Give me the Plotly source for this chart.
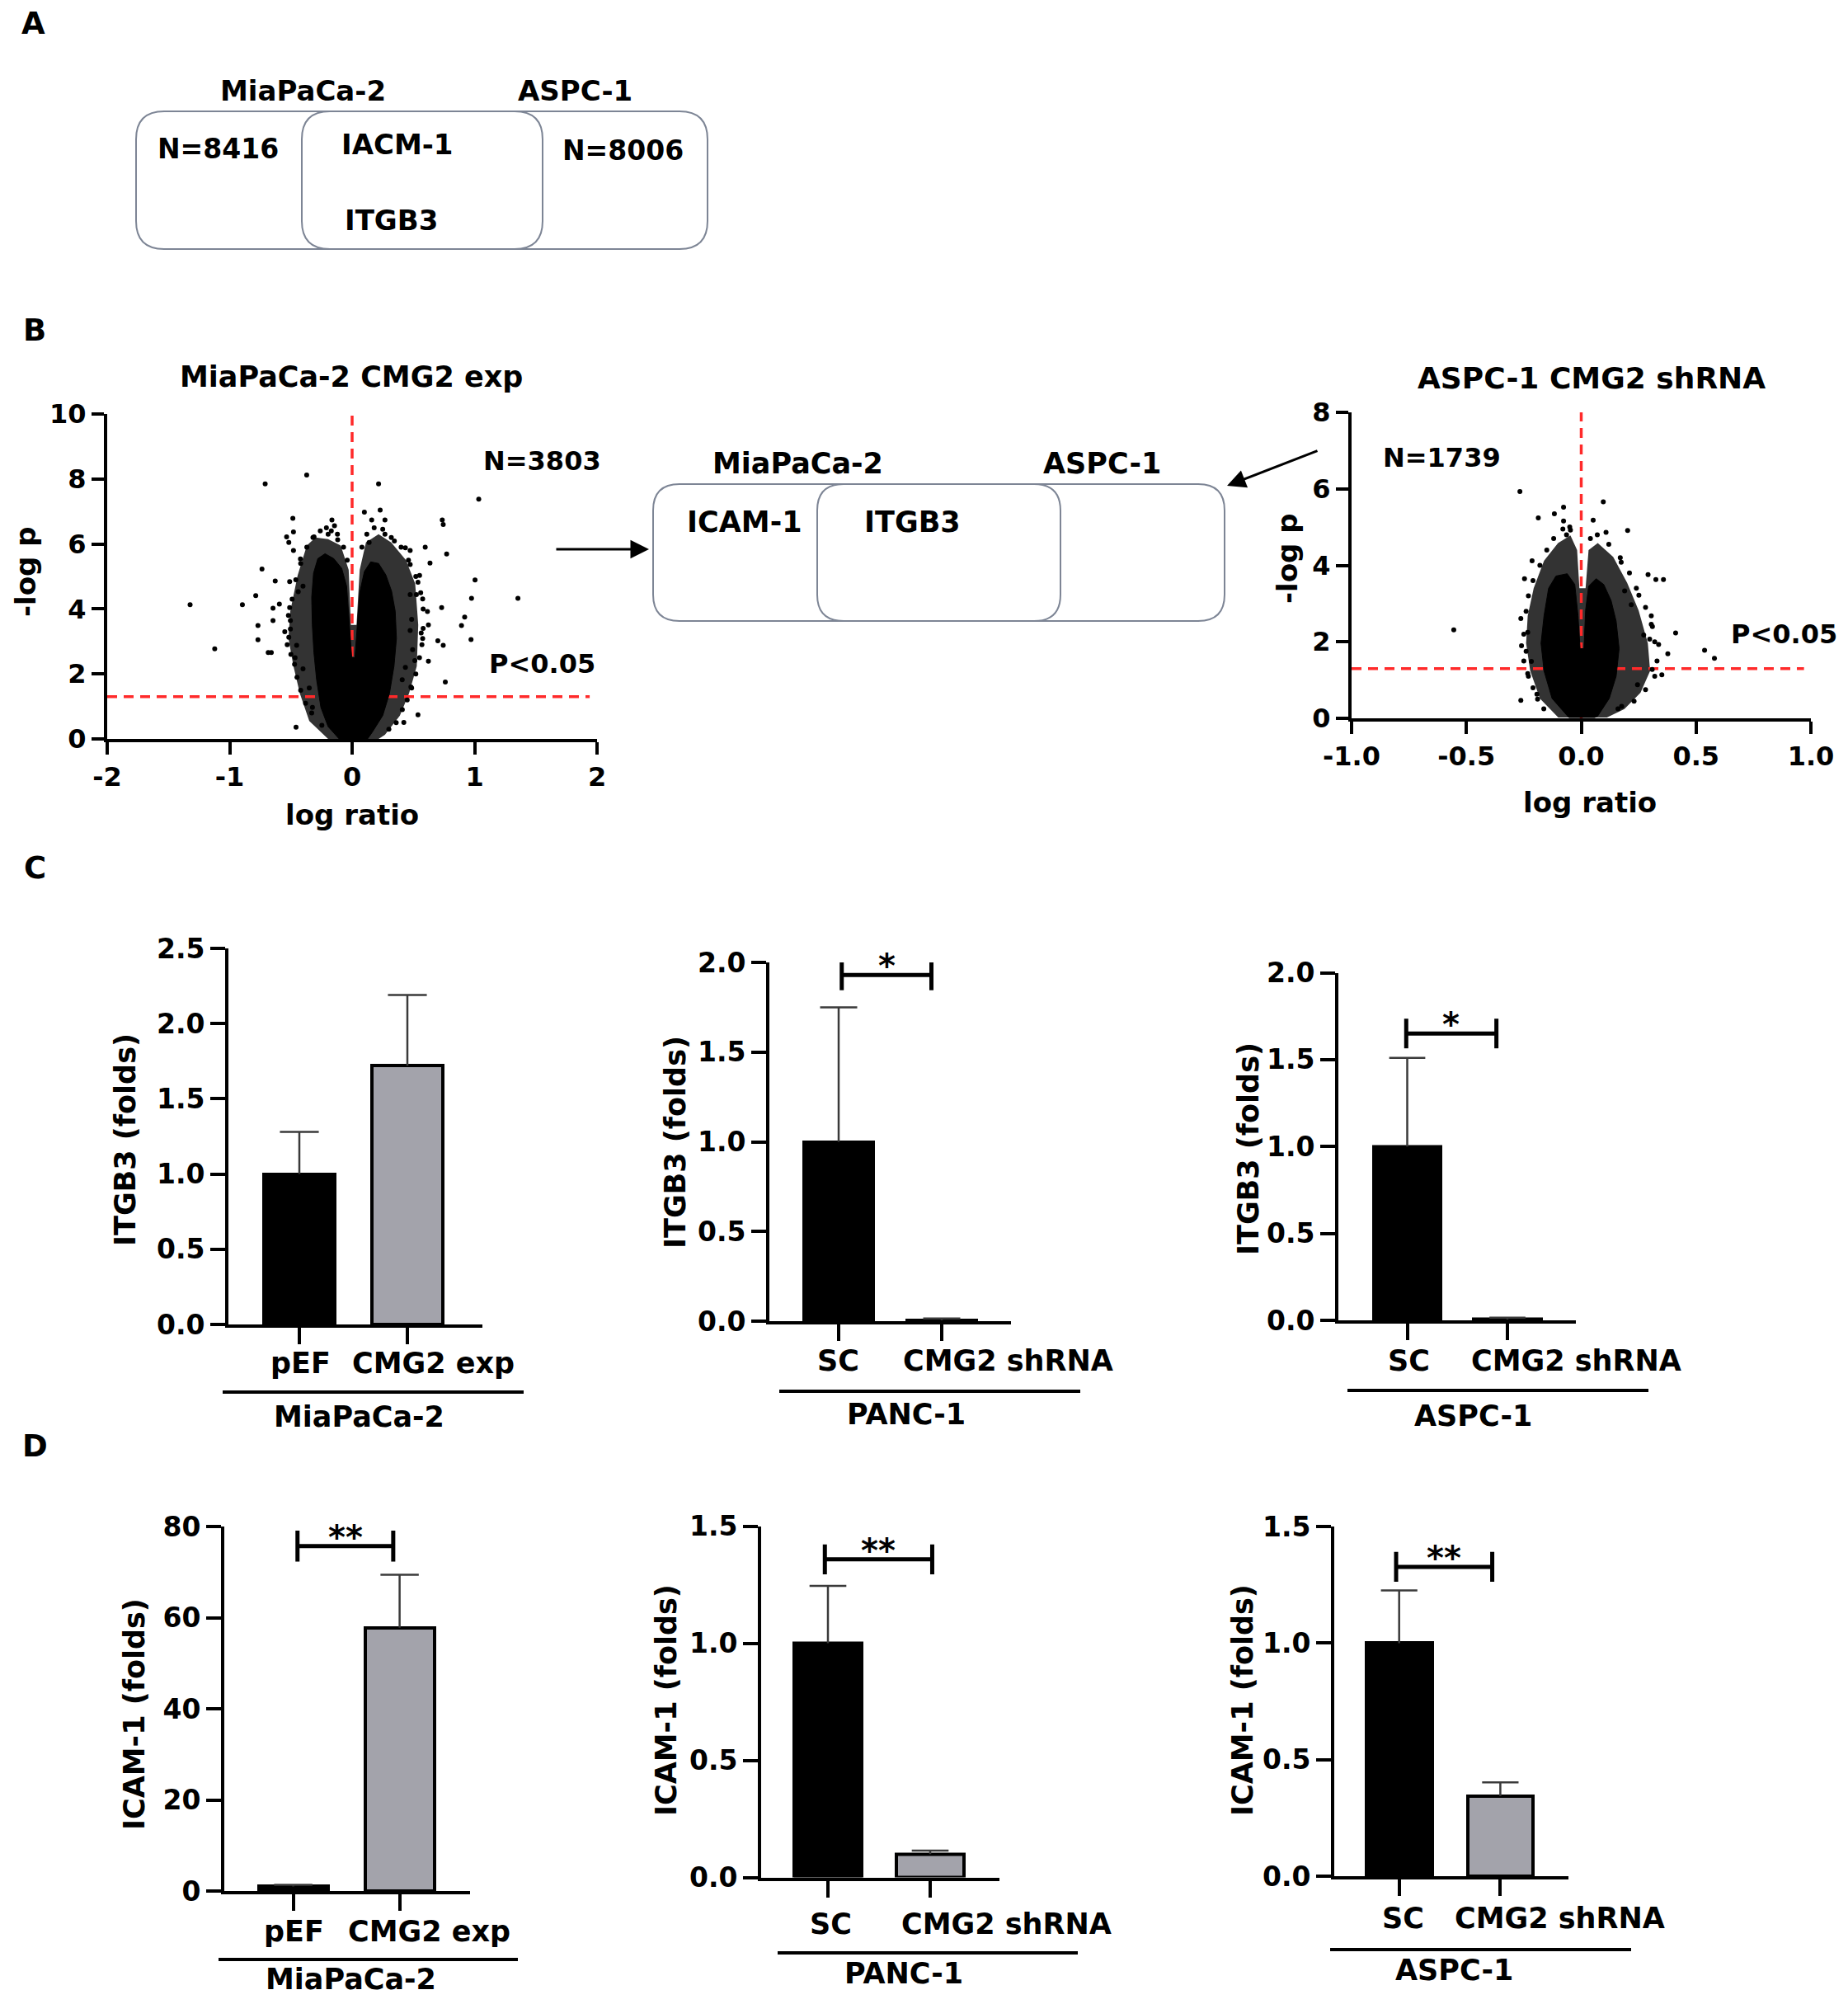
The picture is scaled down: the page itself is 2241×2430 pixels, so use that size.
import plotly.graph_objects as go

W, H = 2241, 2430
OFF = 8                      # default page margin of the HTML body
FIG_W, FIG_H = W - OFF, H - OFF
FONT = "DejaVu Sans"

# ---------------------------------------------------------------- data
# Panel B volcano plots (log ratio, -log p): isolated points and outlines of the dense clouds
mia_points = [(-0.371, 8.12), (-0.710, 7.85), (0.216, 7.85), (1.034, 7.38), (-0.484, 6.79), (-0.165, 6.74),
              (0.100, 6.98), (0.229, 7.04), (0.268, 6.74), (0.736, 6.74), (0.744, 6.60), (-0.144, 6.56),
              (0.160, 6.74), (0.597, 5.90), (0.772, 5.69), (0.636, 5.41), (-0.736, 5.23), (-0.628, 4.86),
              (-0.510, 4.84), (1.004, 4.89), (0.975, 4.33), (1.354, 4.33), (-1.323, 4.13), (-0.896, 4.13),
              (-0.787, 4.41), (-0.646, 4.02), (-0.594, 4.15), (-0.510, 4.04), (-0.646, 3.64), (-0.769, 3.49),
              (-0.769, 3.05), (-0.685, 2.66), (-0.660, 2.66), (-1.122, 2.77), (0.731, 4.04), (0.919, 3.75),
              (0.893, 3.49), (0.971, 3.06), (0.744, 2.88), (0.623, 2.39), (0.761, 1.75), (0.538, 0.74),
              (-0.458, 0.36), (0.615, 3.92), (0.623, 3.51), (0.564, 3.26), (0.700, 3.02), (0.494, 2.75),
              (0.512, 2.41), (0.486, 1.57), (0.422, 0.51), (-0.504, 3.64), (-0.401, 4.70), (-0.440, 4.53),
              (-0.517, 6.05), (-0.535, 6.22), (-0.479, 6.37), (-0.170, 6.40), (-0.479, 5.80), (-0.422, 5.54),
              (0.551, 5.03), (0.525, 4.44), (0.435, 5.88), (0.474, 5.80), (0.474, 5.37), (0.538, 4.82),
              (0.474, 4.44), (0.576, 4.31), (0.486, 3.68), (0.474, 3.34), (0.576, 3.09), (0.435, 2.20),
              (0.409, 1.82), (-0.453, 2.88), (-0.466, 2.50), (-0.401, 2.16), (-0.350, 1.57), (-0.324, 0.97),
              (-0.247, 0.42), (-0.517, 3.13), (-0.504, 3.38), (-0.311, 6.22), (-0.196, 6.30), (-0.118, 6.13),
              (0.139, 6.05), (0.268, 6.30), (0.345, 6.09),
              # speckle along the cloud edges
              (-0.55, 3.3), (-0.53, 2.9), (-0.50, 2.6), (-0.47, 2.3), (-0.45, 1.9), (-0.42, 1.5), (-0.38, 1.1),
              (-0.33, 0.8), (-0.52, 3.8), (-0.49, 4.3), (-0.46, 4.9), (-0.42, 5.4), (-0.37, 5.9), (-0.32, 6.2),
              (-0.26, 6.4), (-0.21, 6.5), (-0.12, 6.3), (-0.07, 5.9), (-0.04, 5.5), (0.08, 5.9), (0.12, 6.3),
              (0.18, 6.5), (0.25, 6.45), (0.32, 6.2), (0.40, 5.9), (0.46, 5.5), (0.52, 5.0), (0.56, 4.5),
              (0.58, 4.0), (0.58, 3.4), (0.57, 2.9), (0.55, 2.5), (0.52, 2.0), (0.48, 1.6), (0.45, 1.2),
              (0.41, 0.9), (0.36, 0.5), (0.30, 0.3)]
mia_core = [(-0.106, 0.0), (-0.196, 0.38), (-0.255, 0.97), (-0.290, 1.82), (-0.312, 2.66), (-0.325, 3.51),
            (-0.330, 4.36), (-0.315, 5.10), (-0.280, 5.55), (-0.221, 5.70), (-0.150, 5.55), (-0.085, 5.25),
            (-0.045, 4.70), (-0.022, 3.51), (-0.003, 2.50), (0.023, 2.50), (0.041, 3.51), (0.062, 4.50),
            (0.100, 5.15), (0.152, 5.45), (0.216, 5.40), (0.275, 5.05), (0.322, 4.55), (0.352, 3.93),
            (0.362, 3.09), (0.342, 2.24), (0.305, 1.40), (0.250, 0.72), (0.165, 0.21), (0.126, 0.0)]
mia_halo = [(-0.196, 0.0), (-0.350, 0.55), (-0.427, 1.40), (-0.479, 2.24), (-0.520, 3.09), (-0.505, 3.93),
            (-0.445, 5.03), (-0.370, 5.95), (-0.299, 6.20), (-0.196, 6.15), (-0.093, 5.95), (-0.028, 5.20),
            (-0.010, 3.51), (0.036, 3.51), (0.062, 5.20), (0.113, 6.05), (0.216, 6.30), (0.319, 6.05),
            (0.440, 5.50), (0.515, 4.78), (0.540, 3.51), (0.528, 2.24), (0.465, 1.40), (0.390, 0.72),
            (0.268, 0.13), (0.216, 0.0)]

aspc_points = [(-0.267, 5.93), (0.096, 5.66), (-0.077, 5.52), (-0.117, 5.35), (-0.187, 5.24), (-0.077, 5.16),
               (0.052, 5.18), (0.202, 4.91), (-0.047, 4.92), (0.108, 4.86), (-0.064, 4.80), (-0.214, 4.12),
               (0.174, 4.08), (0.291, 3.76), (0.325, 3.63), (0.358, 3.63), (-0.555, 2.31), (0.411, 2.23),
               (0.537, 1.78), (0.580, 1.57), (0.377, 1.69), (0.337, 1.93), (0.298, 2.07), (-0.263, 0.47),
               (-0.163, 0.25), (0.176, 0.31), (-0.193, 0.63), (0.351, 1.14), (0.309, 1.28), (0.245, 0.88),
               (-0.233, 1.17), (-0.247, 3.65), (-0.263, 2.61), (0.305, 2.68), (0.305, 2.46), (0.251, 3.22),
               (0.189, 3.33), (0.218, 2.97), (0.272, 2.18), (-0.217, 1.49), (-0.240, 1.75), (-0.233, 2.25),
               # speckle along the cloud edges
               (-0.25, 2.2), (-0.26, 1.9), (-0.25, 1.5), (-0.23, 1.1), (-0.21, 0.8), (-0.19, 0.5), (-0.24, 2.8),
               (-0.23, 3.2), (-0.21, 3.6), (-0.18, 4.0), (-0.15, 4.4), (-0.12, 4.7), (-0.08, 4.95), (-0.05, 5.0),
               (0.04, 4.7), (0.07, 4.8), (0.12, 4.55), (0.17, 4.2), (0.21, 3.8), (0.24, 3.4), (0.28, 2.9),
               (0.31, 2.4), (0.32, 2.0), (0.33, 1.5), (0.32, 1.1), (0.28, 0.75), (0.23, 0.45), (0.16, 0.25)]
aspc_core = [(-0.054, 0.02), (-0.127, 0.52), (-0.162, 1.24), (-0.175, 1.96), (-0.162, 2.68), (-0.142, 3.40),
             (-0.110, 3.72), (-0.061, 3.78), (-0.028, 3.50), (-0.014, 2.68), (-0.005, 1.82), (0.012, 1.82),
             (0.019, 2.82), (0.032, 3.45), (0.065, 3.65), (0.098, 3.50), (0.130, 3.08), (0.152, 2.54),
             (0.165, 1.82), (0.152, 1.10), (0.122, 0.52), (0.072, 0.06), (0.059, 0.02)]
aspc_halo = [(-0.100, 0.02), (-0.180, 0.52), (-0.222, 1.24), (-0.240, 1.96), (-0.233, 2.68), (-0.207, 3.40),
             (-0.162, 4.12), (-0.101, 4.58), (-0.047, 4.78), (-0.018, 4.40), (-0.008, 3.40), (0.019, 3.40),
             (0.032, 4.40), (0.072, 4.58), (0.139, 4.22), (0.200, 3.54), (0.250, 2.82), (0.290, 1.96),
             (0.300, 1.24), (0.258, 0.67), (0.188, 0.24), (0.112, 0.02)]
neg_log_p_cut = 1.301  # -log10(0.05)

mia_xticks = [-2, -1, 0, 1, 2]
mia_xticktext = ["-2", "-1", "0", "1", "2"]
mia_yticks = [0, 2, 4, 6, 8, 10]
aspc_xticks = [-1.0, -0.5, 0.0, 0.5, 1.0]
aspc_xticktext = ["-1.0", "-0.5", "0.0", "0.5", "1.0"]
aspc_yticks = [0, 2, 4, 6, 8]

# Panels C / D: bar charts (mean, SD)
bar_groups = ["MiaPaCa-2", "PANC-1", "ASPC-1"]
bar_cats = [["pEF", "CMG2 exp"], ["SC", "CMG2 shRNA"], ["SC", "CMG2 shRNA"]]
itgb3_mean = [[1.00, 1.72], [1.00, 0.005], [1.00, 0.005]]
itgb3_sd = [[0.28, 0.47], [0.75, 0.010], [0.51, 0.010]]
icam1_mean = [[1.00, 57.8], [1.00, 0.10], [1.00, 0.345]]
icam1_sd = [[0.35, 11.6], [0.245, 0.015], [0.226, 0.058]]
itgb3_sig = ["", "*", "*"]
icam1_sig = ["**", "**", "**"]
itgb3_ticks = [[0, 0.5, 1.0, 1.5, 2.0, 2.5], [0, 0.5, 1.0, 1.5, 2.0], [0, 0.5, 1.0, 1.5, 2.0]]
icam1_ticks = [[0, 20, 40, 60, 80], [0, 0.5, 1.0, 1.5], [0, 0.5, 1.0, 1.5]]
bar_colors = ["#000000", "#a3a3ab"]


# ---------------------------------------------------------------- helpers
def px(x):
    return (x - OFF) / FIG_W


def py(y):
    return 1 - (y - OFF) / FIG_H


def fnt(size):
    return dict(family=FONT, size=size, color="black", weight="bold")


annotations = []
shapes = []


def txt(x, y, s, size, xanchor="center", yanchor="middle", angle=0):
    annotations.append(dict(x=px(x), y=py(y), xref="paper", yref="paper", text=s, showarrow=False,
                            font=fnt(size), xanchor=xanchor, yanchor=yanchor, textangle=angle))


def rrect(x0, y0, x1, y1, r, color="#7d8595", width=2):
    pts = [("M", [(x0 + r, y0)]), ("L", [(x1 - r, y0)]), ("Q", [(x1, y0), (x1, y0 + r)]),
           ("L", [(x1, y1 - r)]), ("Q", [(x1, y1), (x1 - r, y1)]), ("L", [(x0 + r, y1)]),
           ("Q", [(x0, y1), (x0, y1 - r)]), ("L", [(x0, y0 + r)]), ("Q", [(x0, y0), (x0 + r, y0)])]
    path = ""
    for cmd, ps in pts:
        path += cmd + " " + " ".join(f"{px(a):.5f},{py(b):.5f}" for a, b in ps) + " "
    path += "Z"
    shapes.append(dict(type="path", path=path, xref="paper", yref="paper",
                       line=dict(color=color, width=width), fillcolor="rgba(0,0,0,0)"))


def hline(x0, x1, y, width=4):
    shapes.append(dict(type="line", x0=px(x0), x1=px(x1), y0=py(y), y1=py(y), xref="paper", yref="paper",
                       line=dict(color="black", width=width)))


fig = go.Figure()
layout = {}


def axis_common(size):
    return dict(showgrid=False, zeroline=False, showline=True, linecolor="black", linewidth=4,
                ticks="outside", tickcolor="black", tickwidth=4, tickfont=fnt(size), automargin=False)


def add_axes(k, xdom, ydom, xrange, yrange, xtickvals, xticktext, ytickvals, yticktext,
             xticklen, yticklen, show_xlabels=True, size=31):
    n = "" if k == 1 else str(k)
    xa = axis_common(size)
    xa.update(domain=[px(xdom[0]), px(xdom[1])], range=xrange, anchor="y" + n, tickvals=xtickvals,
              ticktext=xticktext, ticklen=xticklen, showticklabels=show_xlabels)
    ya = axis_common(size)
    ya.update(domain=[py(ydom[1]), py(ydom[0])], range=yrange, anchor="x" + n, tickvals=ytickvals,
              ticktext=yticktext, ticklen=yticklen)
    layout["xaxis" + n] = xa
    layout["yaxis" + n] = ya
    return "x" + n, "y" + n


# ---------------------------------------------------------------- panel A
txt(40, 28, "A", 37)
rrect(165, 135, 658, 302, 34)
rrect(366, 135, 858, 302, 34)
txt(367, 110, "MiaPaCa-2", 34)
txt(697, 110, "ASPC-1", 34)
txt(264, 180, "N=8416", 33)
txt(482, 175, "IACM-1", 34)
txt(474, 267, "ITGB3", 34)
txt(755, 183, "N=8006", 33)

# ---------------------------------------------------------------- panel B
txt(42, 401, "B", 37)


def volcano(k, xdom, ydom, xr, yr, xticks, xtt, yticks, points, core, halo, vline_top, hline_end):
    xa, ya = add_axes(k, xdom, ydom, xr, yr, xticks, xtt, yticks, [str(v) for v in yticks], 15, 15,
                      size=32)
    hx, hy = zip(*halo)
    fig.add_trace(go.Scatter(x=list(hx) + [hx[0]], y=list(hy) + [hy[0]], mode="lines", fill="toself",
                             fillcolor="rgba(0,0,0,0.8)", line=dict(width=0, color="rgba(0,0,0,0)"),
                             xaxis=xa, yaxis=ya, hoverinfo="skip"))
    red = dict(color="#ff2a2a", width=3.5, dash="12px,8px")
    fig.add_trace(go.Scatter(x=[0, 0], y=[0, vline_top], mode="lines", line=red, xaxis=xa, yaxis=ya))
    fig.add_trace(go.Scatter(x=[xr[0], hline_end], y=[neg_log_p_cut, neg_log_p_cut], mode="lines",
                             line=red, xaxis=xa, yaxis=ya))
    cx, cy = zip(*core)
    fig.add_trace(go.Scatter(x=list(cx) + [cx[0]], y=list(cy) + [cy[0]], mode="lines", fill="toself",
                             fillcolor="black", line=dict(width=1, color="black"),
                             xaxis=xa, yaxis=ya, hoverinfo="skip"))
    ptx, pty = zip(*points)
    fig.add_trace(go.Scatter(x=list(ptx), y=list(pty), mode="markers",
                             marker=dict(color="black", size=6), xaxis=xa, yaxis=ya))


volcano(1, (130, 724), (502, 896), [-2, 2], [0, 10], mia_xticks, mia_xticktext, mia_yticks,
        mia_points, mia_core, mia_halo, 10, 1.94)
volcano(2, (1639, 2196), (500, 871), [-1, 1], [0, 8], aspc_xticks, aspc_xticktext, aspc_yticks,
        aspc_points, aspc_core, aspc_halo, 8, 0.97)

txt(426, 457, "MiaPaCa-2 CMG2 exp", 35)
txt(31, 693, "-log p", 34, angle=-90)
txt(427, 988, "log ratio", 34)
txt(731, 559, "N=3803", 32, xanchor="right")
txt(724, 805, "P<0.05", 32, xanchor="right")

txt(1930, 458, "ASPC-1 CMG2 shRNA", 36)
txt(1561, 677, "-log p", 34, angle=-90)
txt(1928, 973, "log ratio", 34)
txt(1748, 555, "N=1739", 32)
txt(2230, 769, "P<0.05", 32, xanchor="right")

# middle Venn-style boxes
rrect(792, 587, 1286, 753, 32)
rrect(991, 587, 1485, 753, 32)
txt(967, 562, "MiaPaCa-2", 35)
txt(1336, 562, "ASPC-1", 35)
txt(903, 633, "ICAM-1", 35)
txt(1106, 633, "ITGB3", 35)

for (hx_, hy_, ax_, ay_) in [(787, 666, -114, 0), (1488, 589, 111, -43)]:
    annotations.append(dict(x=px(hx_), y=py(hy_), xref="paper", yref="paper", text="", showarrow=True,
                            ax=ax_, ay=ay_, arrowhead=2, arrowsize=1.5, arrowwidth=3,
                            arrowcolor="black", standoff=0, startstandoff=0))

# ---------------------------------------------------------------- panels C / D
txt(42, 1052, "C", 37)
txt(42, 1753, "D", 37)

geo = [
    # C row
    dict(left=277, right=585, top=1150, bottom=1606, c0=363, sp=131, bw=0.66, ytitle=(152, 1382),
         labels=[(364, 1653), (525, 1653)], gline=(270, 635, 1688), glabel=(435, 1718),
         br=None),
    dict(left=933, right=1226, top=1167, bottom=1602, c0=1017, sp=125, bw=0.67, ytitle=(819, 1385),
         labels=[(1016, 1650), (1222, 1650)], gline=(945, 1310, 1687), glabel=(1099, 1715),
         br=(0.03, 0.90, 1.93, 0.085)),
    dict(left=1623, right=1911, top=1179.5, bottom=1601, c0=1706.5, sp=121.5, bw=0.67, ytitle=(1514, 1393),
         labels=[(1708, 1650), (1911, 1650)], gline=(1634, 1999, 1686), glabel=(1786, 1717),
         br=(-0.01, 0.89, 1.65, 0.085)),
    # D row
    dict(left=272, right=570, top=1851, bottom=2293, c0=355.6, sp=129, bw=0.65, ytitle=(163, 2078),
         labels=[(356, 2342), (520, 2342)], gline=(265, 628, 2376), glabel=(425, 2400),
         br=(0.04, 0.94, 75.7, 3.4)),
    dict(left=923, right=1212, top=1850.5, bottom=2276.6, c0=1004, sp=124, bw=0.66, ytitle=(808, 2062),
         labels=[(1007, 2333), (1220, 2333)], gline=(943, 1307, 2368), glabel=(1096, 2393),
         br=(-0.03, 1.02, 1.358, 0.064)),
    dict(left=1618, right=1902, top=1851, bottom=2275.3, c0=1696.7, sp=122.7, bw=0.65, ytitle=(1507, 2062),
         labels=[(1701, 2326), (1891, 2326)], gline=(1613, 1978, 2364), glabel=(1764, 2389),
         br=(-0.03, 0.92, 1.327, 0.064)),
]

panels = []
for i in range(3):
    panels.append(("ITGB3 (folds)", itgb3_mean[i], itgb3_sd[i], itgb3_ticks[i], itgb3_sig[i], i))
for i in range(3):
    panels.append(("ICAM-1 (folds)", icam1_mean[i], icam1_sd[i], icam1_ticks[i], icam1_sig[i], i))

for j, (ylab, means, sds, yt, sig, gi) in enumerate(panels):
    g = geo[j]
    k = 3 + j
    xr = [(g["left"] - g["c0"]) / g["sp"], (g["right"] - g["c0"]) / g["sp"]]
    yr = [0, yt[-1]]
    ytt = [f"{v:.1f}" if yt[-1] < 10 else f"{v:.0f}" for v in yt]
    xa, ya = add_axes(k, (g["left"], g["right"]), (g["top"], g["bottom"]), xr, yr, [0, 1], ["", ""],
                      yt, ytt, 20, 18, show_xlabels=False, size=33)
    xs = [0, 1]
    fig.add_trace(go.Bar(x=xs, y=means, width=g["bw"], marker=dict(color=bar_colors,
                                                                    line=dict(color="black", width=4)),
                         xaxis=xa, yaxis=ya))
    cap = 0.18
    ex, ey = [], []
    for xi, m, s in zip(xs, means, sds):
        ex += [xi, xi, None, xi - cap, xi + cap, None]
        ey += [m, m + s, None, m + s, m + s, None]
    fig.add_trace(go.Scatter(x=ex, y=ey, mode="lines", line=dict(color="#3a3a3a", width=2.5),
                             xaxis=xa, yaxis=ya, cliponaxis=False))
    if sig and g["br"]:
        x0, x1, yb, hh = g["br"]
        fig.add_trace(go.Scatter(x=[x0, x0, None, x0, x1, None, x1, x1],
                                 y=[yb - hh, yb + hh, None, yb, yb, None, yb - hh, yb + hh],
                                 mode="lines", line=dict(color="black", width=5), xaxis=xa, yaxis=ya,
                                 cliponaxis=False))
        annotations.append(dict(x=(x0 + x1) / 2, y=yb, xref=xa, yref=ya, text=f"<b>{sig}</b>",
                                showarrow=False, font=fnt(40), yanchor="middle", yshift=11))
    txt(g["ytitle"][0], g["ytitle"][1], ylab, 35, angle=-90)
    for (lx, ly), name in zip(g["labels"], bar_cats[gi]):
        txt(lx, ly, name, 35)
    hline(g["gline"][0], g["gline"][1], g["gline"][2])
    txt(g["glabel"][0], g["glabel"][1], bar_groups[gi], 35)

layout.update(width=FIG_W, height=FIG_H, autosize=False,
              margin=dict(l=0, r=0, t=0, b=0, pad=0, autoexpand=False), showlegend=False,
              plot_bgcolor="white", paper_bgcolor="white", bargap=0,
              font=dict(family=FONT, color="black"), annotations=annotations, shapes=shapes)
fig.update_layout(**layout)
fig.write_html("out.html")
